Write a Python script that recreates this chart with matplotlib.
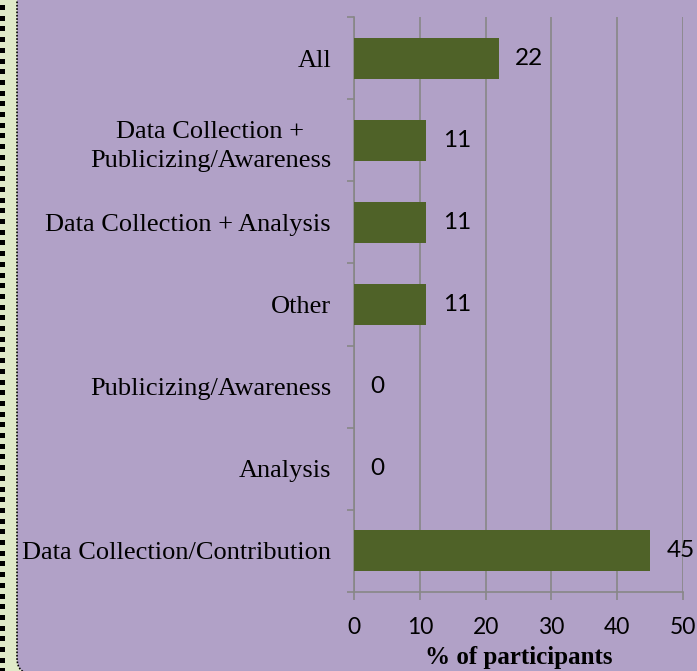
import matplotlib
matplotlib.use("Agg")
import matplotlib.pyplot as plt
from matplotlib.patches import Rectangle, FancyBboxPatch
from matplotlib.transforms import IdentityTransform

categories = ["Data Collection/Contribution", "Analysis", "Publicizing/Awareness",
              "Other", "Data Collection + Analysis",
              "Data Collection +\nPublicizing/Awareness", "All"]
values = [45, 0, 0, 11, 11, 11, 22]
xticks = [0, 10, 20, 30, 40, 50]

purple = "#B1A1C7"
green_bar = "#4F6228"
grey = "#878787"

W, H = 697, 671
fig = plt.figure(figsize=(W / 100, H / 100), dpi=100)
fig.patch.set_facecolor("#E0EAC8")

# purple panel with rounded bottom-left corner
panel = FancyBboxPatch((17, -3), 720, 700, boxstyle="round,pad=0,rounding_size=16",
                       transform=IdentityTransform(), facecolor=purple,
                       edgecolor="black", linestyle=(0, (1, 1)), linewidth=1.2,
                       zorder=-2)
fig.patches.append(panel)

# black dashes on the left edge
y = H - 10
while y > -10:
    fig.patches.append(Rectangle((0, y), 5, 5, transform=IdentityTransform(),
                                 facecolor="black", edgecolor="none", zorder=-1))
    y -= 10.7

ax = fig.add_axes([354 / W, 1 - 592 / H, (683 - 354) / W, (592 - 17) / H])
ax.set_facecolor("none")

pos = list(range(len(categories)))
ax.barh(pos, values, height=0.5, color=green_bar, zorder=3)
for p, v in zip(pos, values):
    ax.text(v + 2.5, p, str(v), va="center", ha="left", fontsize=17.5,
            family="Lato", color="black")

ax.set_xlim(0, 50)
ax.set_ylim(-0.5, len(categories) - 0.5)
ax.set_xticks(xticks)
ax.set_xticklabels([str(t) for t in xticks], family="Lato", fontsize=16.5)
ax.set_yticks(pos)
ax.set_yticklabels(categories, family="Liberation Serif", fontsize=19,
                   linespacing=1.4)
for lab in ax.get_yticklabels():
    lab.set_multialignment("center")
ax.set_yticks([p - 0.5 for p in pos] + [len(pos) - 0.5], minor=True)
ax.tick_params(axis="y", which="major", length=0, pad=16.5)
ax.tick_params(axis="y", which="minor", length=5, color=grey, width=1.2)
ax.tick_params(axis="x", length=6, color=grey, width=1.2, pad=12)
ax.grid(axis="x", color=grey, linewidth=1.2, zorder=0)

for s in ["top", "right"]:
    ax.spines[s].set_visible(False)
for s in ["left", "bottom"]:
    ax.spines[s].set_color(grey)
    ax.spines[s].set_linewidth(1.2)

ax.set_xlabel("% of participants", family="Liberation Serif", fontsize=18,
              fontweight="bold", labelpad=6)

fig.savefig("out.png", dpi=100, facecolor=fig.get_facecolor())
